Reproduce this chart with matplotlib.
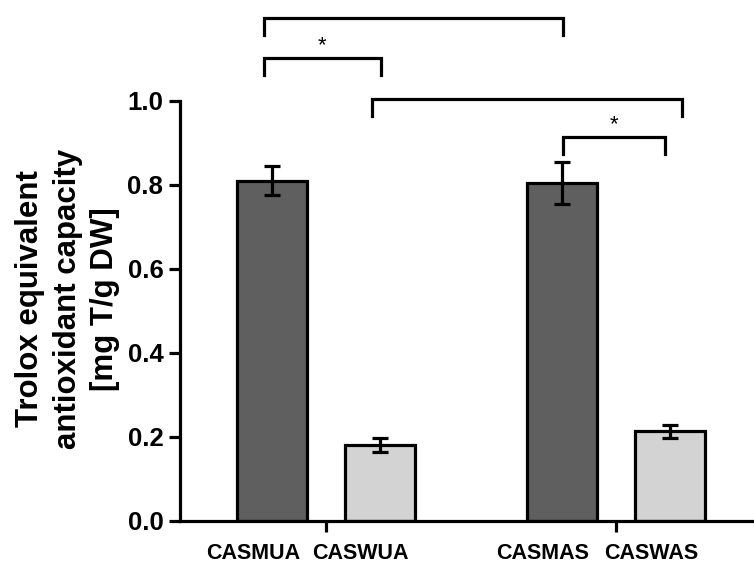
import matplotlib
matplotlib.use("Agg")
import matplotlib.pyplot as plt
import matplotlib.transforms as mtransforms
import numpy as np

plt.rcParams['font.family'] = ['Liberation Sans', 'DejaVu Sans']
plt.rcParams['font.weight'] = 'bold'

# data
samples = ["CASMUA", "CASWUA", "CASMAS", "CASWAS"]
means = [0.81, 0.18, 0.805, 0.213]
errors = [0.035, 0.017, 0.05, 0.016]
bar_colors = ["#5f5f5f", "#d3d3d3", "#5f5f5f", "#d3d3d3"]
group_centers = [0, 1]

# significance brackets: (bar a, bar b, height, label)
brackets = [(0, 2, 1.197, ""), (0, 1, 1.102, "*"), (1, 3, 1.004, ""), (2, 3, 0.914, "*")]
# small hand-drawn nudges of the bracket ends (data units)
bracket_nudge = [(-0.028, 0.003), (-0.028, 0.004), (-0.027, 0.042), (0.003, -0.017)]

offset = 0.186
bar_w = 0.241
xpos = np.array([g + s * offset for g in group_centers for s in (-1, 1)])

W, H = 754, 570
fig = plt.figure(figsize=(W / 100, H / 100), dpi=100)
ax = fig.add_axes([180 / W, (H - 520.7) / H, (W - 180) / W, 420 / H])

lw = 2.3
ax.bar(xpos, means, bar_w, color=bar_colors, edgecolor="black", linewidth=lw, zorder=2)
ax.errorbar(xpos, means, yerr=errors, fmt="none", ecolor="black", elinewidth=lw,
            capsize=6, capthick=lw, zorder=3)

ax.set_xlim(-0.503, 1.476)
ax.set_ylim(0, 1.0)
ax.set_yticks(np.arange(0, 1.01, 0.2))
ax.set_yticklabels([f"{v:.1f}" for v in np.arange(0, 1.01, 0.2)], fontsize=18.5, fontweight="bold")

ax.set_xticks(group_centers)
ax.set_xticklabels([])
ax.set_xticks(xpos, minor=True)
ax.set_xticklabels(samples, minor=True, fontsize=15.5, fontweight="bold")
ax.tick_params(axis="x", which="minor", length=0, pad=16)
ax.tick_params(axis="x", which="major", length=8, width=lw)
ax.tick_params(axis="y", length=8, width=lw, pad=4)
shift = mtransforms.ScaledTranslation(-19 / 100, 0, fig.dpi_scale_trans)
for lab in ax.get_xticklabels(minor=True):
    lab.set_transform(lab.get_transform() + shift)

for s in ["top", "right"]:
    ax.spines[s].set_visible(False)
for s in ["left", "bottom"]:
    ax.spines[s].set_linewidth(lw)
ax.spines["left"].set_bounds(0, 1.0)

ax.set_ylabel("Trolox equivalent\nantioxidant capacity\n[mg T/g DW]", fontsize=22.5,
              fontweight="bold", linespacing=1.32)
ax.yaxis.set_label_coords(-0.1045, 0.528)

drop = 0.04
for (a, b, h, lab), (na, nb) in zip(brackets, bracket_nudge):
    x1, x2 = xpos[a] + na, xpos[b] + nb
    ax.plot([x1, x1, x2, x2], [h - drop, h, h, h - drop], color="black", lw=lw,
            clip_on=False, solid_joinstyle="miter")
    if lab:
        ax.text((x1 + x2) / 2, h + 0.003, lab, ha="center", va="bottom", fontsize=16,
                fontweight="normal")

fig.savefig("out.png", dpi=100)
